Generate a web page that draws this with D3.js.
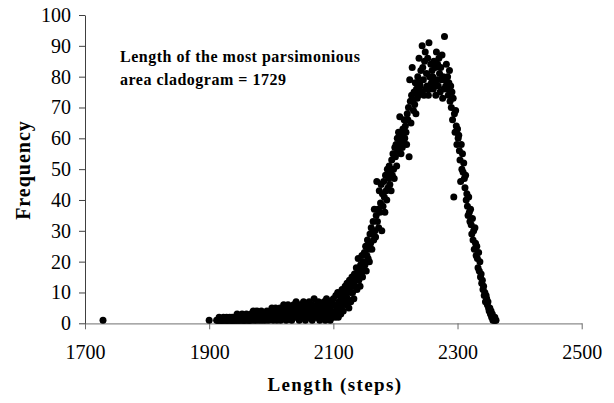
<!DOCTYPE html>
<html>
<head>
<meta charset="utf-8">
<script src="https://cdn.jsdelivr.net/npm/d3@7/dist/d3.min.js"></script>
<style>
  html, body { margin: 0; padding: 0; background: #fff; }
  svg { display: block; }
  text { font-family: "Liberation Serif", "Times New Roman", serif; fill: #000; }
</style>
</head>
<body>
<svg id="chart" width="614" height="403"></svg>
<script>
// ---- data ----
const xTicks = [1700, 1900, 2100, 2300, 2500];
const yTicks = [0, 10, 20, 30, 40, 50, 60, 70, 80, 90, 100];

// isolated most-parsimonious cladogram
const outlierLength = [1729];
const outlierFreq = [1];

// frequencies for consecutive lengths, starting at the given length
const startA = 1900; // 1900-1999
const freqA = [1,0,0,0,0,0,0,0,0,0,0,0,
  1,1,0,1,2,1,1,0,1,1,1,2,1,0,1,1,2,1,1,1,0,2,1,1,1,2,1,1,
  2,1,1,2,1,3,1,2,1,1,2,2,1,3,1,2,1,1,2,1,3,2,1,2,1,1,2,3,1,2,
  2,4,1,2,3,1,2,4,2,1,3,2,2,1,4,2,3,1,2,2,3,1,2,4,2,3,1,2,3,2];
const startB = 2000; // 2000-2099
const freqB = [3,5,2,1,3,4,2,5,3,1,2,4,3,2,5,1,3,4,2,3,
  6,2,4,3,1,5,3,6,2,4,3,2,5,1,4,3,6,2,3,4,
  7,3,2,5,4,1,6,3,4,2,5,3,7,2,4,1,5,3,6,2,
  4,7,3,5,2,6,1,4,3,8,5,2,4,6,3,2,7,4,1,5,
  3,6,2,5,4,7,3,1,5,8,4,2,6,3,5,1,4,7,2,6];
const startC = 2100; // 2100-2199
const freqC = [8,3,6,2,9,5,4,10,2,7,
  5,9,3,8,11,6,4,10,7,12,
  9,6,13,8,11,5,14,10,7,12,
  15,10,13,8,16,12,14,18,11,15,
  21,14,17,12,19,16,22,15,20,18,
  23,19,25,17,22,27,21,24,20,29,
  26,31,24,29,33,27,37,30,28,35,
  46,33,37,31,43,36,39,45,30,42,
  38,46,41,36,48,43,40,50,44,47,
  51,45,49,43,53,48,55,50,47,57];
const startD = 2200; // 2200-2311 (rise, peak and upper fall)
const freqD = [54,58,51,60,56,62,57,67,59,55,
  61,57,63,59,66,60,64,62,58,68,
  66,70,54,79,72,65,74,83,72,69,
  75,71,78,68,76,73,80,74,86,78,
  77,82,75,90,83,79,74,85,88,76,
  81,77,86,74,91,80,76,84,78,82,
  80,76,85,78,83,74,88,79,84,77,86,81,
  75,83,79,87,73,80,76,93,79,77,
  84,76,80,74,78,82,72,77,70,75,
  66,73,41,68,62,69,64,58,63,60,
  61,56,53,46,58,50,55,49,52,47];
const startE = 2312; // 2312-2362 (lower fall)
const freqE = [44,48,40,42,38,35,41,36,33,37,
  32,29,34,27,30,24,31,26,22,25,
  21,18,23,17,20,15,16,13,14,11,
  12,9,10,7,9,8,6,7,5,4,
  5,3,4,2,3,1,2,1,2,1,1];

const annotation = ["Length of the most parsimonious", "area cladogram = 1729"];
const xTitle = "Length (steps)";
const yTitle = "Frequency";

// ---- build points ----
const points = [];
outlierLength.forEach((l, i) => points.push({ l, f: outlierFreq[i] }));
[[startA, freqA], [startB, freqB], [startC, freqC], [startD, freqD], [startE, freqE]]
  .forEach(([s, arr]) => arr.forEach((f, i) => { if (f > 0) points.push({ l: s + i, f }); }));

// ---- chart ----
const svg = d3.select("#chart");
const x = d3.scaleLinear().domain([1700, 2500]).range([85, 581.7]);
const y = d3.scaleLinear().domain([0, 100]).range([323.3, 15]);

const gx = svg.append("g").attr("transform", `translate(0,${y(0)})`)
  .call(d3.axisBottom(x).tickValues(xTicks).tickFormat(d3.format("d")).tickSize(6).tickPadding(16).tickSizeOuter(0));
gx.select(".domain").attr("stroke", "#8c8c8c").attr("stroke-width", 1.2);
gx.selectAll(".tick line").attr("stroke", "#6a6a6a");
gx.selectAll(".tick text").attr("font-size", 20).attr("font-family", "Liberation Serif");

const gy = svg.append("g").attr("transform", `translate(${x(1700)},0)`)
  .call(d3.axisLeft(y).tickValues(yTicks).tickSize(6).tickPadding(8).tickSizeOuter(0));
gy.select(".domain").attr("stroke", "#404040");
gy.selectAll(".tick line").attr("stroke", "#404040");
gy.selectAll(".tick text").attr("font-size", 20).attr("font-family", "Liberation Serif");

svg.append("g").selectAll("circle").data(points).join("circle")
  .attr("cx", d => x(d.l)).attr("cy", d => y(d.f)).attr("r", 3.5).attr("fill", "#000");

svg.append("text").attr("x", 335).attr("y", 391).attr("text-anchor", "middle")
  .attr("font-size", 19).attr("font-weight", "bold").attr("letter-spacing", 1.4).text(xTitle);

svg.append("text").attr("transform", "translate(30,170) rotate(-90)").attr("text-anchor", "middle")
  .attr("font-size", 20).attr("font-weight", "bold").attr("letter-spacing", 1).text(yTitle);

svg.append("g").selectAll("text").data(annotation).join("text")
  .attr("x", 120).attr("y", (d, i) => 62 + i * 23)
  .attr("font-size", 16).attr("font-weight", "bold").attr("letter-spacing", 0.5).text(d => d);
</script>
</body>
</html>
